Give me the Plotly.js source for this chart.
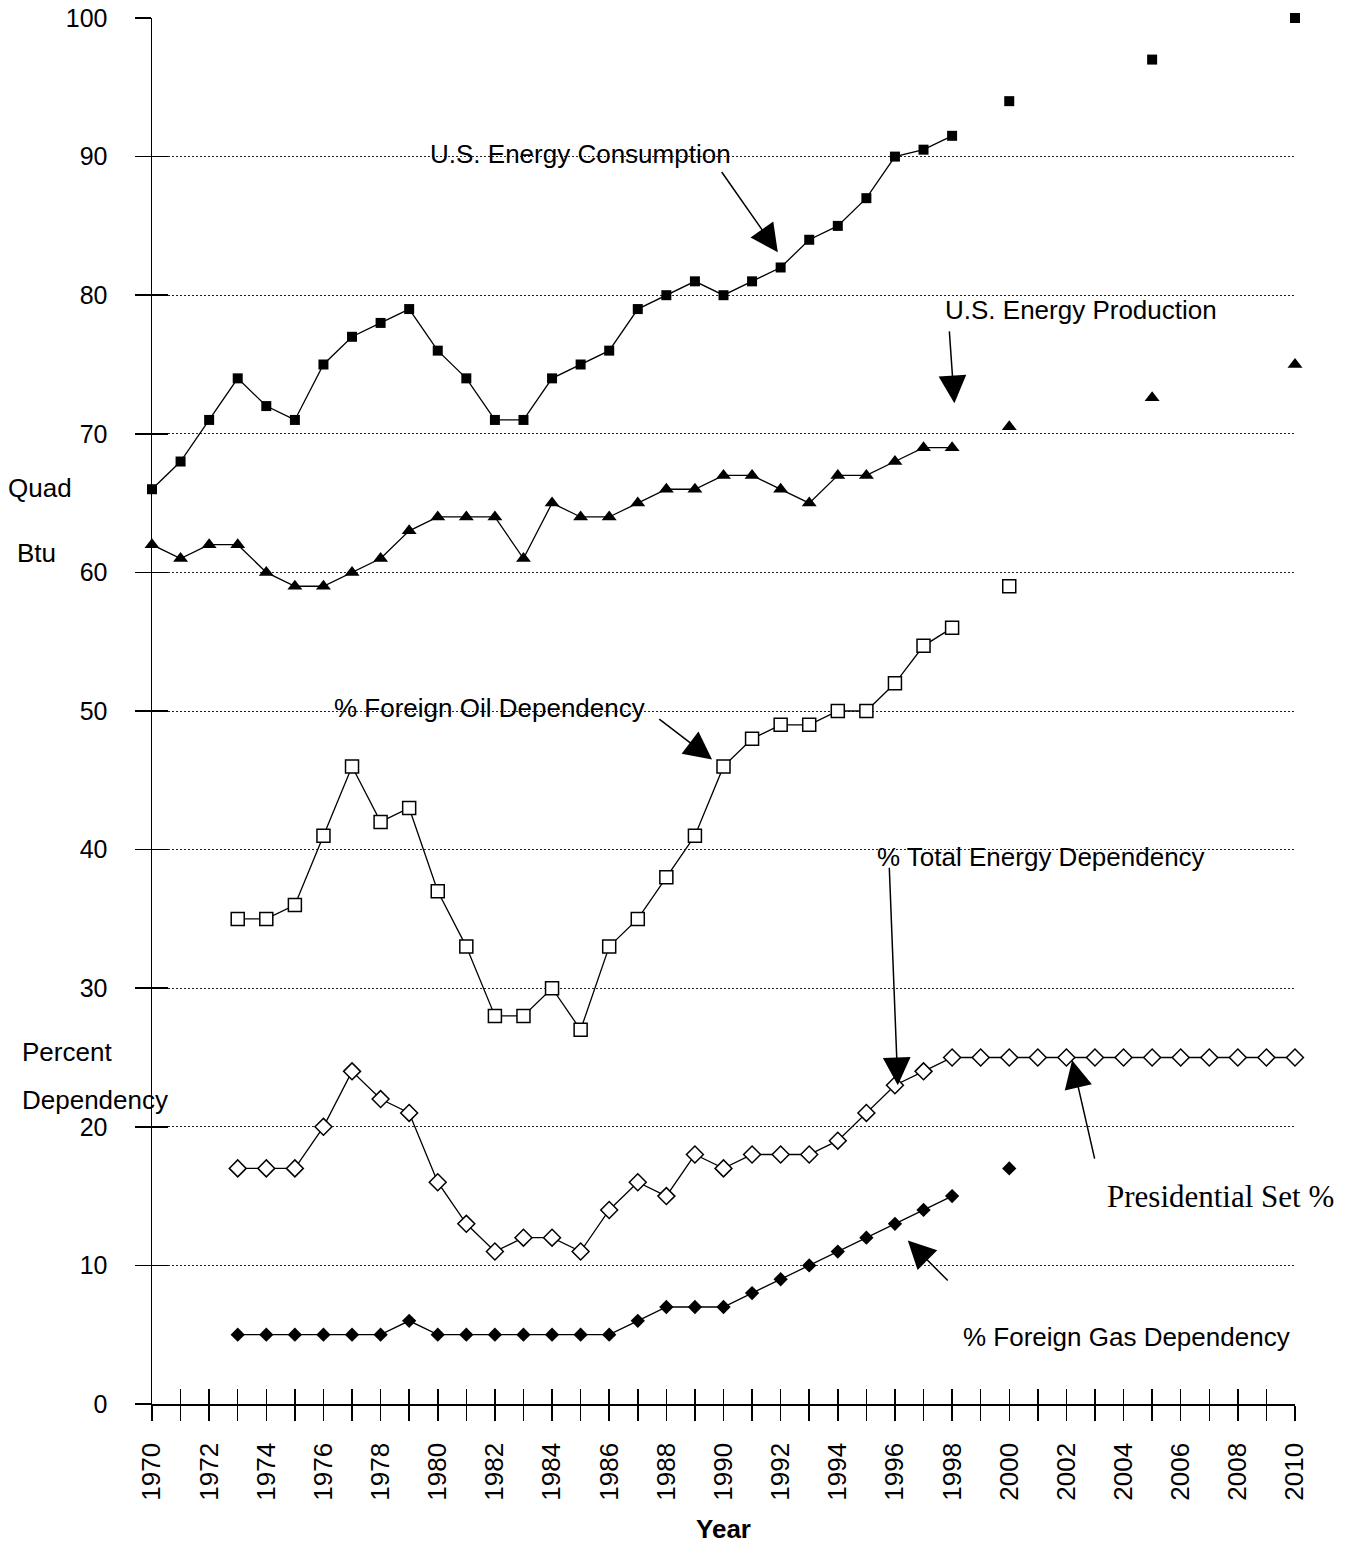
<!DOCTYPE html>
<html>
<head>
<meta charset="utf-8">
<script src="https://cdn.plot.ly/plotly-3.0.1.min.js"></script>
<style>html,body{margin:0;padding:0;background:#fff;}#chart{width:1349px;height:1544px;}</style>
</head>
<body>
<div id="chart"></div>
<script>
// ---- data ----
const yearsA = [1970,1971,1972,1973,1974,1975,1976,1977,1978,1979,1980,1981,1982,1983,1984,1985,1986,1987,1988,1989,1990,1991,1992,1993,1994,1995,1996,1997,1998];
const consumption = [66,68,71,74,72,71,75,77,78,79,76,74,71,71,74,75,76,79,80,81,80,81,82,84,85,87,90,90.5,91.5];
const production  = [62,61,62,62,60,59,59,60,61,63,64,64,64,61,65,64,64,65,66,66,67,67,66,65,67,67,68,69,69];
const projYears = [2000,2005,2010];
const consumptionProj = [94,97,100];
const productionProj  = [70.5,72.6,75];

const yearsB = [1973,1974,1975,1976,1977,1978,1979,1980,1981,1982,1983,1984,1985,1986,1987,1988,1989,1990,1991,1992,1993,1994,1995,1996,1997,1998];
const oilDep = [35,35,36,41,46,42,43,37,33,28,28,30,27,33,35,38,41,46,48,49,49,50,50,52,54.7,56];
const gasDep = [5,5,5,5,5,5,6,5,5,5,5,5,5,5,6,7,7,7,8,9,10,11,12,13,14,15];
const yearsC = [1973,1974,1975,1976,1977,1978,1979,1980,1981,1982,1983,1984,1985,1986,1987,1988,1989,1990,1991,1992,1993,1994,1995,1996,1997,1998,1999,2000,2001,2002,2003,2004,2005,2006,2007,2008,2009,2010];
const totalDep = [17,17,17,20,24,22,21,16,13,11,12,12,11,14,16,15,18,17,18,18,18,19,21,23,24,25,25,25,25,25,25,25,25,25,25,25,25,25];
const oilProjYear = [2000], oilProj = [59];
const gasProjYear = [2000], gasProj = [17];

const xTickYears = [1970,2010];
const yTickRange = [0,100];

// ---- styles ----
const FONT = 'Liberation Sans, Arial, sans-serif';
const SERIF = 'Liberation Serif, Times New Roman, serif';
const LINE = {color:'#000', width:1.3};

const traces = [
  {x:yearsA, y:consumption, mode:'lines+markers', line:LINE, marker:{symbol:'square', size:10, color:'#000'}, cliponaxis:false},
  {x:projYears, y:consumptionProj, mode:'markers', marker:{symbol:'square', size:10, color:'#000'}, cliponaxis:false},
  {x:yearsA, y:production, mode:'lines+markers', line:LINE, marker:{symbol:'triangle-up', size:13, color:'#000'}, cliponaxis:false},
  {x:projYears, y:productionProj, mode:'markers', marker:{symbol:'triangle-up', size:13, color:'#000'}, cliponaxis:false},
  {x:yearsB, y:oilDep, mode:'lines+markers', line:LINE, marker:{symbol:'square', size:13, color:'#fff', line:{color:'#000', width:1.5}}, cliponaxis:false},
  {x:oilProjYear, y:oilProj, mode:'markers', marker:{symbol:'square', size:13, color:'#fff', line:{color:'#000', width:1.5}}, cliponaxis:false},
  {x:yearsC, y:totalDep, mode:'lines+markers', line:LINE, marker:{symbol:'diamond', size:13, color:'#fff', line:{color:'#000', width:1.5}}, cliponaxis:false},
  {x:yearsB, y:gasDep, mode:'lines+markers', line:LINE, marker:{symbol:'diamond', size:11, color:'#000'}, cliponaxis:false},
  {x:gasProjYear, y:gasProj, mode:'markers', marker:{symbol:'diamond', size:11, color:'#000'}, cliponaxis:false},
  // empty trace so the overlay axes (inner tick marks) get drawn
  {x:[], y:[], xaxis:'x2', yaxis:'y2', mode:'markers', hoverinfo:'skip'}
];

function label(text, x, y, font) {
  return {text:text, x:x, y:y, xref:'x', yref:'y', showarrow:false, font:font || {family:FONT, size:26, color:'#000'}};
}
function arrow(x, y, ax, ay) {
  return {text:'', x:x, y:y, ax:ax, ay:ay, xref:'x', yref:'y', axref:'x', ayref:'y', showarrow:true,
          arrowhead:2, arrowsize:3.7, arrowwidth:1.5, arrowcolor:'#000', standoff:0, startstandoff:0};
}
function sideLabel(text, px, y) {
  return {text:text, x:px, y:y, xref:'paper', yref:'y', showarrow:false, xanchor:'center', font:{family:FONT, size:26, color:'#000'}};
}

const annotations = [
  label('U.S. Energy Consumption', 1985.0, 90.2),
  arrow(1991.9, 83.1, 1989.9, 89.0),
  label('U.S. Energy Production', 2002.5, 78.9),
  arrow(1998.08, 72.2, 1997.9, 77.5),
  label('% Foreign Oil Dependency', 1981.8, 50.2),
  arrow(1989.6, 46.5, 1987.7, 49.5),
  label('% Total Energy Dependency', 2001.1, 39.5),
  arrow(1996.1, 23.0, 1995.8, 38.8),
  label('Presidential Set %', 2007.4, 15.0, {family:SERIF, size:31, color:'#000'}),
  arrow(2002.2, 24.8, 2003.0, 17.6),
  label('% Foreign Gas Dependency', 2004.1, 4.8),
  arrow(1996.45, 11.8, 1997.9, 8.8),
  sideLabel('Quad', -0.098, 66.1),
  sideLabel('Btu', -0.101, 61.4),
  sideLabel('Percent', -0.074, 25.4),
  sideLabel('Dependency', -0.050, 21.9)
];

const layout = {
  width:1349, height:1544,
  margin:{l:152, r:54, t:18, b:140},
  paper_bgcolor:'#fff', plot_bgcolor:'#fff',
  showlegend:false,
  font:{family:FONT, color:'#000'},
  xaxis:{range:xTickYears, tickmode:'linear', tick0:1970, dtick:2, ticks:'outside', ticklen:15, tickwidth:1.5, tickcolor:'#000',
         showline:true, linecolor:'#000', linewidth:1.5, showgrid:false, zeroline:false, tickangle:-90,
         tickfont:{family:FONT, size:26, color:'#000'}, ticklabelstandoff:12,
         minor:{tick0:1970, dtick:1, ticks:'outside', ticklen:15, tickwidth:1.5, tickcolor:'#000', showgrid:false},
         title:{text:'<b>Year</b>', font:{family:FONT, size:26, color:'#000'}, standoff:20}, automargin:false},
  xaxis2:{range:xTickYears, overlaying:'x', anchor:'y2', side:'bottom', tickmode:'linear', tick0:1970, dtick:1, ticks:'inside',
          ticklen:15, tickwidth:1.5, tickcolor:'#000', showticklabels:false, showline:false, showgrid:false, zeroline:false},
  yaxis:{range:yTickRange, tickmode:'linear', tick0:0, dtick:10, ticks:'outside', ticklen:16, tickwidth:1.5, tickcolor:'#000',
         showline:true, linecolor:'#000', linewidth:1.5, showgrid:true, gridcolor:'#222', gridwidth:1, griddash:'2px,2px',
         zeroline:false, tickfont:{family:FONT, size:25, color:'#000'}, ticklabelstandoff:22, automargin:false},
  yaxis2:{range:yTickRange, overlaying:'y', anchor:'x2', side:'left', tickmode:'linear', tick0:0, dtick:10, ticks:'inside',
          ticklen:16, tickwidth:1.5, tickcolor:'#000', showticklabels:false, showline:false, showgrid:false, zeroline:false},
  annotations:annotations
};

Plotly.newPlot('chart', traces, layout, {displayModeBar:false, staticPlot:true});
</script>
</body>
</html>
